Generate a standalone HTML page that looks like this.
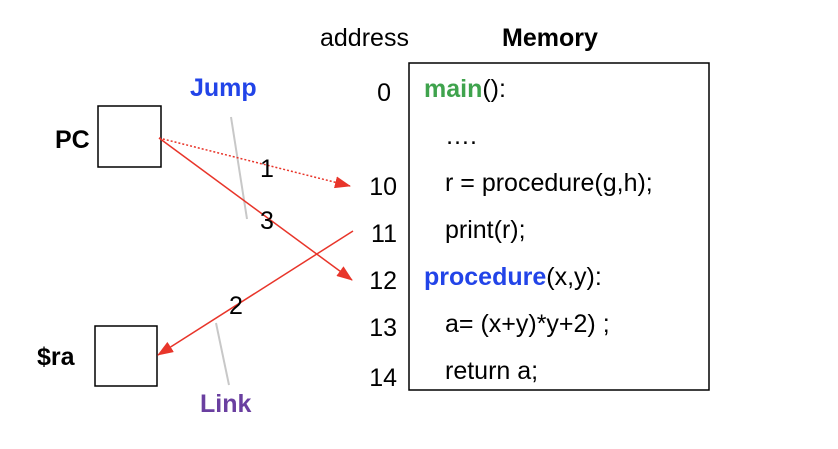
<!DOCTYPE html>
<html><head><meta charset="utf-8"><style>
body{margin:0;width:838px;height:444px;background:#fff;overflow:hidden;font-family:"Liberation Sans",sans-serif}
</style></head><body>
<svg width="838" height="444" xmlns="http://www.w3.org/2000/svg" font-family="Liberation Sans, sans-serif" font-size="25">
<defs>
<marker id="b" markerWidth="16" markerHeight="12" refX="15" refY="6" orient="auto" markerUnits="userSpaceOnUse"><path d="M0,0 L16,6 L0,12 z" fill="#e8352a"/></marker></defs>
<text x="320" y="46">address</text>
<text x="502" y="46" font-weight="bold">Memory</text>
<rect x="409" y="63" width="300" height="327" fill="none" stroke="#000" stroke-width="1.5"/>
<g text-anchor="end">
<text x="391" y="101">0</text>
<text x="397" y="195">10</text><text x="397" y="242">11</text><text x="397" y="289">12</text><text x="397" y="336">13</text><text x="397" y="386">14</text>
</g>
<text x="424" y="97"><tspan fill="#3fa34d" font-weight="bold">main</tspan>():</text>
<text x="445" y="144">….</text>
<text x="445" y="191">r = procedure(g,h);</text>
<text x="445" y="238">print(r);</text>
<text x="424" y="285"><tspan fill="#2244e8" font-weight="bold">procedure</tspan>(x,y):</text>
<text x="445" y="332">a= (x+y)*y+2) ;</text>
<text x="445" y="379">return a;</text>
<rect x="98" y="106" width="63" height="61" fill="none" stroke="#000" stroke-width="1.5"/>
<rect x="95" y="326" width="62" height="60" fill="none" stroke="#000" stroke-width="1.5"/>
<text x="55" y="148" font-weight="bold">PC</text>
<text x="37" y="365" font-weight="bold">$ra</text>
<text x="190" y="96" fill="#2244e8" font-weight="bold">Jump</text>
<text x="200" y="412" fill="#6a3fa0" font-weight="bold">Link</text>
<line x1="231" y1="117" x2="247" y2="219" stroke="#c8c8c8" stroke-width="2"/>
<line x1="216" y1="323" x2="229" y2="385" stroke="#c8c8c8" stroke-width="2"/>
<line x1="159" y1="138" x2="350" y2="186" stroke="#e8352a" stroke-width="1.5" stroke-dasharray="2,2" marker-end="url(#b)"/>
<line x1="159" y1="138" x2="352" y2="280" stroke="#e8352a" stroke-width="1.5" marker-end="url(#b)"/>
<line x1="353" y1="231" x2="158" y2="355" stroke="#e8352a" stroke-width="1.5" marker-end="url(#b)"/>
<text x="260" y="177">1</text>
<text x="260" y="229">3</text>
<text x="229" y="314">2</text>
</svg>
</body></html>
